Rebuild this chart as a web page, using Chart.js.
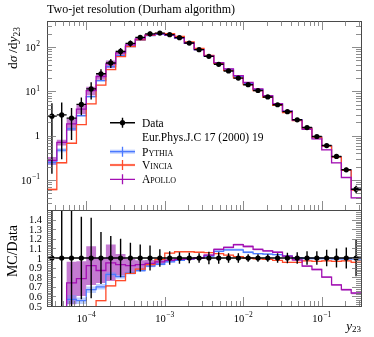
<!DOCTYPE html>
<html>
<head>
<meta charset="utf-8">
<title>Two-jet resolution (Durham algorithm)</title>
<script src="https://cdn.jsdelivr.net/npm/chart.js@4.4.1/dist/chart.umd.min.js"></script>
<style>
  html, body { margin: 0; padding: 0; background: #ffffff; }
  #box { width: 374px; height: 337px; }
</style>
</head>
<body>
<div id="box"><canvas id="y23Chart" width="374" height="337"></canvas></div>
<script>
/**
 * y23 distribution (Durham algorithm): data against three MC generators.
 * Upper panel dσ/dy23 on a log scale, lower panel MC/Data.
 */

// bin edges in y23, 8 bins per decade
const binEdges = [
  3.162e-5, 4.217e-5, 5.623e-5, 7.499e-5, 1.000e-4, 1.334e-4, 1.778e-4, 2.371e-4,
  3.162e-4, 4.217e-4, 5.623e-4, 7.499e-4, 1.000e-3, 1.334e-3, 1.778e-3, 2.371e-3,
  3.162e-3, 4.217e-3, 5.623e-3, 7.499e-3, 1.000e-2, 1.334e-2, 1.778e-2, 2.371e-2,
  3.162e-2, 4.217e-2, 5.623e-2, 7.499e-2, 1.000e-1, 1.334e-1, 1.778e-1, 2.371e-1,
  3.162e-1
];

// measured dσ/dy23 and its relative uncertainty
const dataValues = [
  2.77, 2.95, 2.5, 5.1, 11.4, 25, 44, 80, 122, 166, 200, 208, 192, 164, 124, 88,
  62, 41, 29, 20, 14.2, 10.5, 7.5, 5.0, 3.5, 2.29, 1.53, 0.96, 0.60, 0.34, 0.17, 0.062
];
const dataRelErr = [
  0.95, 0.9, 0.68, 0.43, 0.42, 0.27, 0.23, 0.2, 0.16, 0.14, 0.13, 0.09, 0.07, 0.06, 0.055, 0.05,
  0.066, 0.06, 0.05, 0.05, 0.04, 0.04, 0.04, 0.05, 0.055, 0.06, 0.07, 0.07, 0.085, 0.1, 0.11, 0.19
];

// MC/Data ratios
const pythiaRatio = [
  0.09, 0.16, 0.57, 0.555, 0.67, 0.70, 0.83, 0.805, 0.845, 0.87, 0.915, 0.935, 0.96, 0.975, 0.99, 1.0,
  1.02, 1.07, 1.085, 1.085, 1.06, 1.045, 1.04, 1.035, 1.02, 1.0, 0.995, 0.995, 0.995, 0.99, 0.99, 0.99
];
const vinciaRatio = [
  0.022, 0.083, 0.27, 0.35, 0.46, 0.555, 0.71, 0.765, 0.84, 0.885, 0.93, 0.985, 1.05, 1.065, 1.065, 1.06,
  1.055, 1.045, 1.03, 1.015, 1.0, 0.99, 0.985, 0.975, 0.955, 0.955, 0.97, 0.965, 0.97, 0.965, 0.97, 0.955
];
const apolloRatio = [
  0.10, 0.24, 0.74, 0.785, 0.92, 0.87, 0.95, 0.93, 0.92, 0.93, 0.945, 0.96, 0.975, 0.985, 0.99, 1.0,
  1.03, 1.09, 1.11, 1.14, 1.12, 1.09, 1.075, 1.06, 1.02, 0.98, 0.915, 0.88, 0.80, 0.72, 0.67, 0.635
];

// relative MC uncertainties (shaded bands)
const pythiaRelErr = [
  0.12, 0.1, 0.08, 0.06, 0.05, 0.04, 0.03, 0.025, 0.02, 0.015, 0.012, 0.01, 0.008, 0.007, 0.007, 0.007,
  0.008, 0.01, 0.012, 0.012, 0.01, 0.008, 0.008, 0.007, 0.007, 0.007, 0.007, 0.008, 0.008, 0.008, 0.01, 0.012
];
const vinciaRelErr = [
  0.05, 0.04, 0.03, 0.025, 0.02, 0.015, 0.012, 0.01, 0.008, 0.006, 0.005, 0.005, 0.005, 0.005, 0.005, 0.005,
  0.005, 0.005, 0.005, 0.005, 0.005, 0.005, 0.005, 0.005, 0.005, 0.005, 0.005, 0.006, 0.006, 0.006, 0.008, 0.008
];
const apolloRelErr = [
  0.2, 0.15, 0.3, 0.23, 0.22, 0.15, 0.2, 0.12, 0.075, 0.05, 0.035, 0.025, 0.018, 0.012, 0.01, 0.008,
  0.008, 0.008, 0.008, 0.008, 0.008, 0.008, 0.008, 0.008, 0.008, 0.008, 0.01, 0.01, 0.012, 0.014, 0.016, 0.018
];

// tick labels
const xTickExps = [-4, -3, -2, -1];
const mainTickExps = [-1, 0, 1, 2];
const ratioTickLabels = ['0.5', '0.6', '0.7', '0.8', '0.9', '1', '1.1', '1.2', '1.3', '1.4'];

const plotTitle = 'Two-jet resolution (Durham algorithm)';
const dataLabel = 'Data';
const dataRef = 'Eur.Phys.J.C 17 (2000) 19';
const SERIF = '"Liberation Serif", "DejaVu Serif", serif';

const generators = [
  { name: 'Pythia', ratio: pythiaRatio, err: pythiaRelErr, line: '#4b79ff', band: 'rgba(110,150,255,0.45)', legBand: 4, order: 3 },
  { name: 'Vincia', ratio: vinciaRatio, err: vinciaRelErr, line: '#ff4a2a', band: 'rgba(255,110,80,0.35)', legBand: 2.5, order: 2 },
  { name: 'Apollo', ratio: apolloRatio, err: apolloRelErr, line: '#a30fb3', band: 'rgba(160,40,180,0.62)', legBand: 0, order: 1 }
];

/**
 * histogram values -> step line points at the bin edges
 */
function stepPoints(values) {
  const pts = [];
  values.forEach((v, i) => {
    pts.push({ x: binEdges[i], y: v });
    pts.push({ x: binEdges[i + 1], y: v });
  });
  return pts;
}

function binCenter(i) {
  return Math.sqrt(binEdges[i] * binEdges[i + 1]);
}

/**
 * build all datasets (main and ratio panel)
 */
function buildDatasets() {
  const datasets = [];

  // data points
  datasets.push({
    label: dataLabel, yAxisID: 'y', order: 0, showLine: false,
    data: dataValues.map((v, i) => ({ x: binCenter(i), y: v })),
    pointRadius: 2.6, pointBackgroundColor: '#000', pointBorderWidth: 0
  });
  datasets.push({
    label: dataLabel + ' ratio', yAxisID: 'yr', order: 0, showLine: false,
    data: dataValues.map((v, i) => ({ x: binCenter(i), y: 1 })),
    pointRadius: 2.6, pointBackgroundColor: '#000', pointBorderWidth: 0
  });

  generators.forEach(g => {
    const main = dataValues.map((v, i) => v * g.ratio[i]);
    const panels = [
      { axis: 'y', vals: main },
      { axis: 'yr', vals: g.ratio }
    ];
    panels.forEach(p => {
      // band: upper edge, then lower edge filled to it
      datasets.push({
        label: g.name + ' up', yAxisID: p.axis, order: 10,
        data: stepPoints(p.vals.map((v, i) => v * (1 + g.err[i]))),
        borderWidth: 0, pointRadius: 0, fill: false
      });
      datasets.push({
        label: g.name + ' down', yAxisID: p.axis, order: 10,
        data: stepPoints(p.vals.map((v, i) => v * (1 - g.err[i]))),
        borderWidth: 0, pointRadius: 0, fill: '-1', backgroundColor: g.band
      });
      datasets.push({
        label: g.name, yAxisID: p.axis, order: g.order,
        data: stepPoints(p.vals),
        borderColor: g.line, borderWidth: 1.3, pointRadius: 0, fill: false
      });
    });
  });
  return datasets;
}

function hline(ctx, x0, y0, x1, y1) {
  ctx.moveTo(x0, y0);
  ctx.lineTo(x1, y1);
}

function half(v) {
  return Math.round(v) + 0.5;
}

/**
 * data error bars (x: bin width, y: uncertainty), clipped to the panel
 */
function drawErrorBars(ctx, xs, ys, values) {
  ctx.save();
  ctx.beginPath();
  ctx.rect(xs.left, ys.top, xs.right - xs.left, ys.bottom - ys.top);
  ctx.clip();
  ctx.strokeStyle = '#000';
  ctx.lineWidth = 1.4;
  ctx.beginPath();
  values.forEach((v, i) => {
    const xl = xs.getPixelForValue(binEdges[i]);
    const xh = xs.getPixelForValue(binEdges[i + 1]);
    const xc = xs.getPixelForValue(binCenter(i));
    const yc = ys.getPixelForValue(v);
    const lo = Math.max(v * (1 - dataRelErr[i]), ys.min);
    hline(ctx, xl, yc, xh, yc);
    hline(ctx, xc, ys.getPixelForValue(v * (1 + dataRelErr[i])), xc, ys.getPixelForValue(lo));
  });
  ctx.stroke();
  ctx.restore();
}

/**
 * panel frames and inward ticks
 */
function drawFramesAndTicks(ctx, xs, ym, yr) {
  ctx.save();
  ctx.strokeStyle = '#4a4a4a';
  ctx.lineWidth = 1;
  [ym, yr].forEach(p => {
    ctx.strokeRect(half(xs.left), half(p.top), Math.round(xs.right) - Math.round(xs.left), Math.round(p.bottom) - Math.round(p.top));
  });

  ctx.strokeStyle = '#707070';
  ctx.lineWidth = 0.8;
  ctx.beginPath();
  for (let e = -5; e <= 0; e++) {
    for (let m = 1; m <= 9; m++) {
      const v = m * Math.pow(10, e);
      if (v <= xs.min || v >= xs.max) continue;
      const x = half(xs.getPixelForValue(v));
      const len = m === 1 ? 9 : 5;
      hline(ctx, x, ym.top, x, ym.top + len);
      hline(ctx, x, ym.bottom, x, ym.bottom - len);
      hline(ctx, x, yr.bottom, x, yr.bottom - len);
    }
  }
  for (let e = -3; e <= 3; e++) {
    for (let m = 1; m <= 9; m++) {
      const v = m * Math.pow(10, e);
      if (v <= ym.min || v >= ym.max) continue;
      const y = half(ym.getPixelForValue(v));
      const len = m === 1 ? 9 : 5;
      hline(ctx, xs.left, y, xs.left + len, y);
      hline(ctx, xs.right, y, xs.right - len, y);
    }
  }
  for (let k = 26; k < 75; k++) {
    const y = half(yr.getPixelForValue(k * 0.02));
    const len = k % 5 === 0 ? 9 : 5;
    hline(ctx, xs.left, y, xs.left + len, y);
    hline(ctx, xs.right, y, xs.right - len, y);
  }
  ctx.stroke();
  ctx.restore();
}

/**
 * "10^n" tick label
 */
function drawPowLabel(ctx, exp, x, y, align) {
  ctx.textAlign = 'left';
  ctx.font = '10.5px ' + SERIF;
  if (exp === 0) {
    const w1 = ctx.measureText('1').width;
    ctx.fillText('1', align === 'right' ? x - w1 : x - w1 / 2, y);
    return;
  }
  const sup = exp < 0 ? '\u2212' + (-exp) : String(exp);
  const wb = ctx.measureText('10').width;
  ctx.font = '7.5px ' + SERIF;
  const ws = ctx.measureText(sup).width;
  const total = wb + 0.6 + ws;
  const x0 = align === 'right' ? x - total : x - total / 2;
  ctx.font = '10.5px ' + SERIF;
  ctx.fillText('10', x0, y);
  ctx.font = '7.5px ' + SERIF;
  ctx.fillText(sup, x0 + wb + 0.6, y - 4.5);
}

/**
 * text made of several runs (font, vertical shift)
 */
function runsWidth(ctx, runs) {
  let w = 0;
  runs.forEach(r => { ctx.font = r[1]; w += ctx.measureText(r[0]).width; });
  return w;
}

function drawRuns(ctx, runs, x, y) {
  let cx = x;
  runs.forEach(r => {
    ctx.font = r[1];
    ctx.fillText(r[0], cx, y + (r[2] || 0));
    cx += ctx.measureText(r[0]).width;
  });
}

function drawLabels(ctx, xs, ym, yr) {
  ctx.save();
  ctx.fillStyle = '#000';
  ctx.textBaseline = 'alphabetic';

  // title
  ctx.textAlign = 'left';
  ctx.font = '12px ' + SERIF;
  ctx.fillText(plotTitle, 47, 13);

  // tick labels
  xTickExps.forEach(e => drawPowLabel(ctx, e, xs.getPixelForValue(Math.pow(10, e)), 321.5, 'center'));
  mainTickExps.forEach(e => drawPowLabel(ctx, e, 40, ym.getPixelForValue(Math.pow(10, e)) + 3.6, 'right'));
  ctx.font = '10.5px ' + SERIF;
  ctx.textAlign = 'right';
  ratioTickLabels.forEach(t => {
    ctx.fillText(t, 42, yr.getPixelForValue(parseFloat(t)) + 3.6);
  });
  ctx.textAlign = 'left';

  // x axis title
  const xRuns = [['y', 'italic 13px ' + SERIF], ['23', '9px ' + SERIF, 2.5]];
  drawRuns(ctx, xRuns, 361 - runsWidth(ctx, xRuns), 329.5);

  // y axis titles, rotated, aligned to the top of each panel
  const yRuns = [
    ['d', '13.5px ' + SERIF], ['\u03c3', 'italic 13.5px ' + SERIF], ['\u2009/', '13.5px ' + SERIF],
    ['d', '13.5px ' + SERIF], ['y', 'italic 13.5px ' + SERIF], ['23', '9.5px ' + SERIF, 3]
  ];
  ctx.save();
  ctx.translate(16.5, ym.top + 6);
  ctx.rotate(-Math.PI / 2);
  drawRuns(ctx, yRuns, -runsWidth(ctx, yRuns), 0);
  ctx.restore();

  const rRuns = [['MC/Data', '14px ' + SERIF]];
  ctx.save();
  ctx.translate(17, yr.top + 15);
  ctx.rotate(-Math.PI / 2);
  drawRuns(ctx, rRuns, -runsWidth(ctx, rRuns), 0);
  ctx.restore();

  ctx.restore();
}

/**
 * legend inside the main panel
 */
function drawLegend(ctx) {
  const x0 = 110, x1 = 135, xm = 122.5, tx = 142;
  const rows = [122.7, 136.7, 151.7, 165, 179.3];
  ctx.save();
  ctx.textAlign = 'left';
  ctx.textBaseline = 'alphabetic';

  // data entry
  ctx.strokeStyle = '#000';
  ctx.lineWidth = 1.4;
  ctx.beginPath();
  hline(ctx, x0, rows[0], x1, rows[0]);
  hline(ctx, xm, rows[0] - 5, xm, rows[0] + 5);
  ctx.stroke();
  ctx.beginPath();
  ctx.arc(xm, rows[0], 2.6, 0, Math.PI * 2);
  ctx.fillStyle = '#000';
  ctx.fill();
  ctx.font = '11.5px ' + SERIF;
  ctx.fillText(dataLabel, tx, rows[0] + 4);
  ctx.fillText(dataRef, tx, rows[1] + 4);

  // generators
  generators.forEach((g, k) => {
    const y = rows[k + 2];
    if (g.legBand > 0) {
      ctx.fillStyle = g.band;
      ctx.fillRect(x0, y - g.legBand / 2, x1 - x0, g.legBand);
    }
    ctx.strokeStyle = g.line;
    ctx.lineWidth = 1.3;
    ctx.beginPath();
    hline(ctx, x0, y, x1, y);
    hline(ctx, xm, y - 5, xm, y + 5);
    ctx.stroke();
    ctx.fillStyle = '#000';
    ctx.font = '11.5px ' + SERIF;
    ctx.fontVariantCaps = 'small-caps';
    ctx.fillText(g.name, tx, y + 4);
    ctx.fontVariantCaps = 'normal';
  });
  ctx.restore();
}

const rivetDecor = {
  id: 'rivetDecor',
  afterDatasetsDraw(chart) {
    const ctx = chart.ctx;
    const xs = chart.scales.x, ym = chart.scales.y, yr = chart.scales.yr;
    drawErrorBars(ctx, xs, ym, dataValues);
    drawErrorBars(ctx, xs, yr, dataValues.map(() => 1));
    drawFramesAndTicks(ctx, xs, ym, yr);
    drawLabels(ctx, xs, ym, yr);
    drawLegend(ctx);
  }
};

const hiddenAxis = {
  ticks: { display: false },
  grid: { display: false },
  border: { display: false }
};

new Chart(document.getElementById('y23Chart'), {
  type: 'line',
  data: { datasets: buildDatasets() },
  plugins: [rivetDecor],
  options: {
    responsive: false,
    animation: false,
    devicePixelRatio: 1,
    layout: { padding: { left: 47, right: 13, top: 21, bottom: 31 } },
    plugins: {
      legend: { display: false },
      title: { display: false },
      tooltip: { enabled: false }
    },
    scales: {
      x: Object.assign({
        type: 'logarithmic', position: 'bottom',
        min: binEdges[0], max: binEdges[binEdges.length - 1],
        afterFit: s => { s.height = 0; }
      }, hiddenAxis),
      y: Object.assign({
        type: 'logarithmic', position: 'left', stack: 'panels', stackWeight: 189, weight: 2,
        min: 0.021, max: 390,
        afterFit: s => { s.width = 0; }
      }, hiddenAxis),
      yr: Object.assign({
        type: 'linear', position: 'left', stack: 'panels', stackWeight: 96, weight: 1,
        min: 0.5, max: 1.5,
        afterFit: s => { s.width = 0; }
      }, hiddenAxis)
    }
  }
});
</script>
</body>
</html>
